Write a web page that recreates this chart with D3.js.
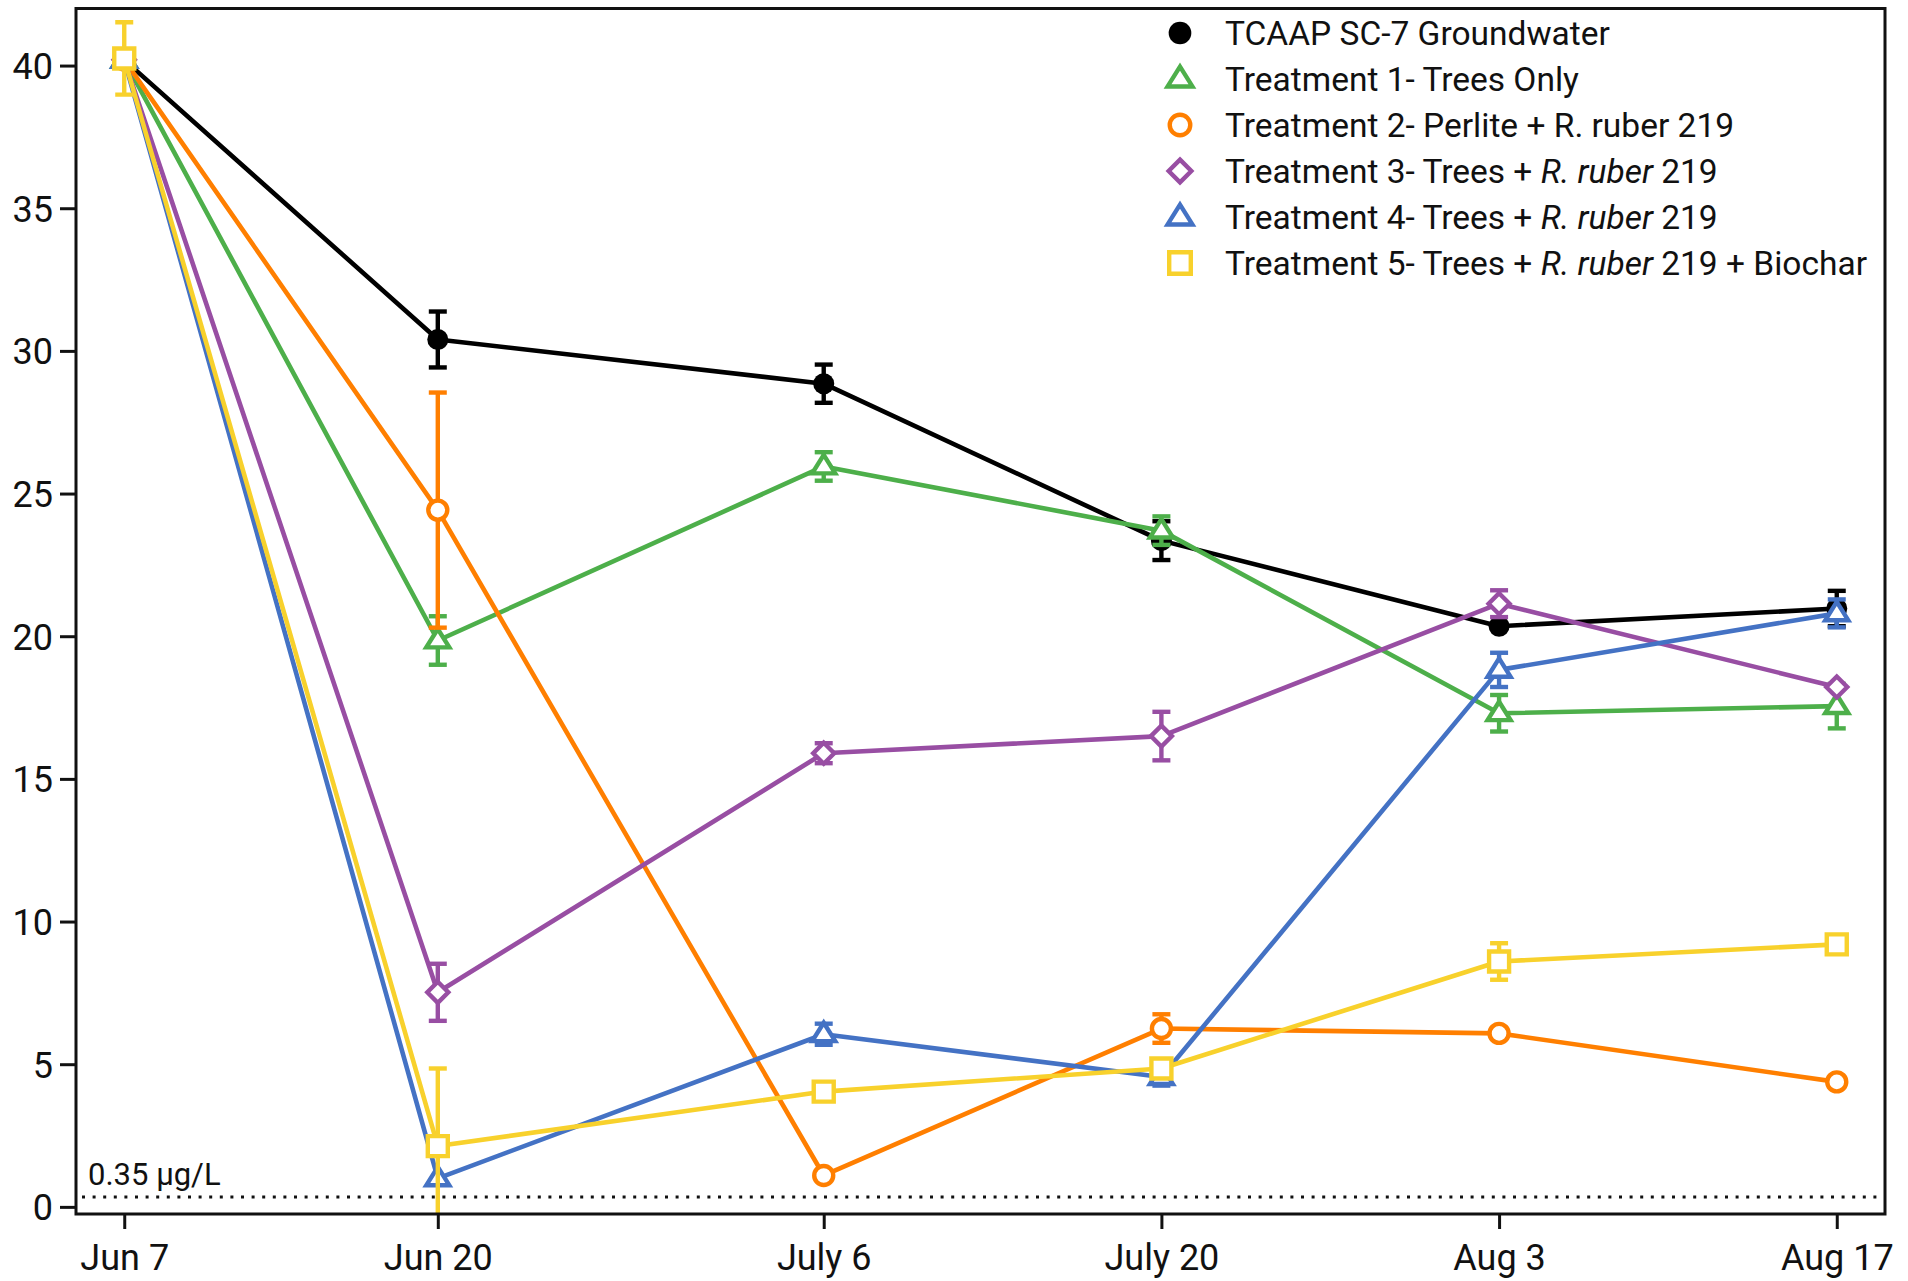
<!DOCTYPE html>
<html>
<head>
<meta charset="utf-8">
<script src="https://cdn.jsdelivr.net/npm/d3@7"></script>
<style>
  html, body { margin: 0; padding: 0; background: #fff; }
  svg { display: block; font-family: Roboto, "Noto Sans", sans-serif; }
</style>
</head>
<body>
<svg id="chart" width="1908" height="1281"></svg>
<script>
// Sampling dates, expressed as days after the first sampling (Jun 7)
const sampleDays = [0, 13, 29, 43, 57, 71];
const dateLabels = ["Jun 7", "Jun 20", "July 6", "July 20", "Aug 3", "Aug 17"];
const yTicks = [0, 5, 10, 15, 20, 25, 30, 35, 40];
const detectionLimit = 0.35;
const detectionLabel = "0.35 µg/L";

// Series means and error (±) per sampling date
const groundwater    = [40.2, 30.4, 28.85, 23.35, 20.35, 20.97];
const groundwaterErr = [0, 0.98, 0.67, 0.68, 0, 0.62];
const treatment1     = [40.2, 19.85, 25.95, 23.7, 17.3, 17.55];
const treatment1Err  = [0, 0.85, 0.5, 0.5, 0.64, 0.78];
const treatment2     = [40.2, 24.42, 1.1, 6.25, 6.08, 4.38];
const treatment2Err  = [0, 4.12, 0, 0.5, 0, 0];
const treatment3     = [40.2, 7.52, 15.9, 16.5, 21.14, 18.22];
const treatment3Err  = [0, 1.0, 0.35, 0.85, 0.47, 0];
const treatment4     = [40.2, 1.0, 6.05, 4.55, 18.82, 20.8];
const treatment4Err  = [0, 0, 0.37, 0.3, 0.6, 0.49];
const treatment5     = [40.25, 2.13, 4.04, 4.85, 8.6, 9.2];
const treatment5Err  = [1.27, 2.72, 0, 0, 0.64, 0];

// Marker shapes as custom d3 symbol types (size = nominal half width)
const shapes = {
  circle:   { draw(c, r) { c.moveTo(r, 0); c.arc(0, 0, r, 0, 2 * Math.PI); } },
  triangle: { draw(c, r) { const h = r * 1.15; c.moveTo(0, -h); c.lineTo(r * 1.15, h * 0.6); c.lineTo(-r * 1.15, h * 0.6); c.closePath(); } },
  diamond:  { draw(c, r) { c.moveTo(0, -r); c.lineTo(r, 0); c.lineTo(0, r); c.lineTo(-r, 0); c.closePath(); } },
  square:   { draw(c, r) { c.rect(-r, -r, 2 * r, 2 * r); } }
};

const series = [
  { name: [{ t: "TCAAP SC-7 Groundwater" }], values: groundwater, err: groundwaterErr, color: "#000000", shape: "circle", filled: true, r: 10.5 },
  { name: [{ t: "Treatment 1- Trees Only" }], values: treatment1, err: treatment1Err, color: "#4daf4a", shape: "triangle", filled: false, r: 10 },
  { name: [{ t: "Treatment 2- Perlite + R. ruber 219" }], values: treatment2, err: treatment2Err, color: "#ff7f00", shape: "circle", filled: false, r: 9.5 },
  { name: [{ t: "Treatment 3- Trees + " }, { t: "R. ruber", i: true }, { t: " 219" }], values: treatment3, err: treatment3Err, color: "#984ea3", shape: "diamond", filled: false, r: 10.5 },
  { name: [{ t: "Treatment 4- Trees + " }, { t: "R. ruber", i: true }, { t: " 219" }], values: treatment4, err: treatment4Err, color: "#4472c4", shape: "triangle", filled: false, r: 10 },
  { name: [{ t: "Treatment 5- Trees + " }, { t: "R. ruber", i: true }, { t: " 219 + Biochar" }], values: treatment5, err: treatment5Err, color: "#f8d12c", shape: "square", filled: false, r: 10 }
];

const svg = d3.select("#chart");
const plot = { left: 76, right: 1885, top: 8.5, bottom: 1214 };

const x = d3.scaleLinear().domain([-2, 73]).range([plot.left, plot.right]);
const y = d3.scaleLinear().domain([-0.25, 42]).range([plot.bottom, plot.top]);

svg.append("defs").append("clipPath").attr("id", "plotClip")
  .append("rect")
  .attr("x", plot.left).attr("y", plot.top)
  .attr("width", plot.right - plot.left).attr("height", plot.bottom - plot.top);

// Detection limit reference line
svg.append("line")
  .attr("x1", plot.left + 6).attr("x2", plot.right - 4)
  .attr("y1", y(detectionLimit)).attr("y2", y(detectionLimit))
  .attr("stroke", "#111").attr("stroke-width", 3)
  .attr("stroke-dasharray", "3 7.6");
svg.append("text")
  .attr("x", 88).attr("y", 1185)
  .attr("font-size", 31).attr("fill", "#111")
  .text(detectionLabel);

// Axes
const yAxis = d3.axisLeft(y).tickValues(yTicks).tickSize(16).tickPadding(7);
const gy = svg.append("g").attr("transform", `translate(${plot.left},0)`).call(yAxis);
const xAxis = d3.axisBottom(x).tickValues(sampleDays).tickFormat((d, i) => dateLabels[i]).tickSize(15).tickPadding(8);
const gx = svg.append("g").attr("transform", `translate(0,${plot.bottom})`).call(xAxis);
[gx, gy].forEach(g => {
  g.select(".domain").remove();
  g.selectAll(".tick line").attr("stroke", "#111").attr("stroke-width", 3);
  g.selectAll(".tick text").attr("font-size", 36).attr("fill", "#111").attr("font-family", "Roboto, sans-serif");
});
gy.selectAll(".tick text").attr("dy", "0.36em");
gx.selectAll(".tick text").attr("dy", "0.93em");

// Series: connecting line, error bars, then markers
const line = d3.line().x((d, i) => x(sampleDays[i])).y(d => y(d));
const plotArea = svg.append("g").attr("clip-path", "url(#plotClip)");
const capHalf = 9;

series.forEach(s => {
  const g = plotArea.append("g");
  g.append("path")
    .datum(s.values)
    .attr("d", line)
    .attr("fill", "none")
    .attr("stroke", s.color)
    .attr("stroke-width", 4.6)
    .attr("stroke-linejoin", "round");

  const bars = s.values.map((v, i) => ({ day: sampleDays[i], v, e: s.err[i] })).filter(d => d.e > 0);
  const eb = g.selectAll(".eb").data(bars).join("g").attr("stroke", s.color).attr("stroke-width", 4.4);
  eb.append("line")
    .attr("x1", d => x(d.day)).attr("x2", d => x(d.day))
    .attr("y1", d => y(d.v + d.e)).attr("y2", d => y(d.v - d.e));
  eb.append("line")
    .attr("x1", d => x(d.day) - capHalf).attr("x2", d => x(d.day) + capHalf)
    .attr("y1", d => y(d.v + d.e)).attr("y2", d => y(d.v + d.e));
  eb.append("line")
    .attr("x1", d => x(d.day) - capHalf).attr("x2", d => x(d.day) + capHalf)
    .attr("y1", d => y(d.v - d.e)).attr("y2", d => y(d.v - d.e));

  const sym = d3.symbol().type(shapes[s.shape]).size(s.r);
  g.selectAll(".pt").data(s.values).join("path")
    .attr("transform", (d, i) => `translate(${x(sampleDays[i])},${y(d)})`)
    .attr("d", sym)
    .attr("fill", s.filled ? s.color : "#fff")
    .attr("stroke", s.color)
    .attr("stroke-width", s.filled ? 0 : 4.4);
});

// Frame around the plot area
svg.append("rect")
  .attr("x", plot.left).attr("y", plot.top)
  .attr("width", plot.right - plot.left).attr("height", plot.bottom - plot.top)
  .attr("fill", "none").attr("stroke", "#111").attr("stroke-width", 3);

// Legend
const legend = svg.append("g").attr("transform", "translate(1180,33)");
series.forEach((s, i) => {
  const row = legend.append("g").attr("transform", `translate(0,${i * 46})`);
  row.append("path")
    .attr("d", d3.symbol().type(shapes[s.shape]).size(s.r * 1.08)())
    .attr("fill", s.filled ? s.color : "#fff")
    .attr("stroke", s.color)
    .attr("stroke-width", s.filled ? 0 : 4.4);
  const txt = row.append("text")
    .attr("x", 45).attr("y", 12)
    .attr("font-size", 33.5).attr("fill", "#111");
  s.name.forEach(part => {
    txt.append("tspan").attr("font-style", part.i ? "italic" : null).text(part.t);
  });
});
</script>
</body>
</html>
